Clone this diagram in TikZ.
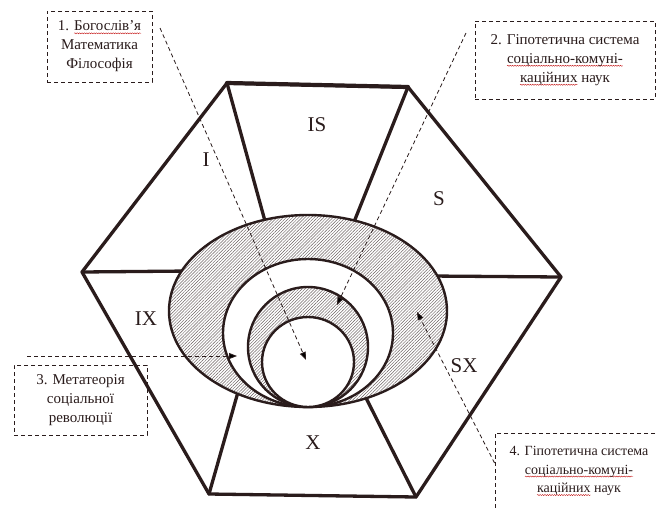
\documentclass[tikz,border=0pt]{standalone}
\usepackage{fontspec}
\setmainfont{Liberation Serif}
\usetikzlibrary{arrows.meta,patterns.meta,decorations.pathmorphing}
\definecolor{ink}{HTML}{2A1C1C}
\newlength\rwlen
\newcommand\rwave[1]{\settowidth\rwlen{#1}\rlap{\tikz[overlay,baseline=0pt]\draw[solid,draw=red!75!black,line width=0.35pt,decorate,decoration={snake,amplitude=0.55pt,segment length=2.4pt}] (0pt,-2.4pt) -- (\rwlen,-2.4pt);}#1}
\begin{document}
\begin{tikzpicture}[x=1pt,y=-1pt,
  hexline/.style={draw=ink,line width=3.3pt,line cap=round,line join=round},
  ring/.style={draw=ink,line width=2.4pt},
  hatch/.style={preaction={fill=white},pattern={Lines[angle=45,distance=2.2pt,line width=0.45pt]},pattern color=ink!70},
  blank/.style={fill=white},
  note/.style={draw=ink,dash pattern=on 4pt off 3pt,line width=0.85pt,align=center,
    font=\fontsize{15}{19}\selectfont,text=ink,inner sep=0pt},
  pointer/.style={draw=ink,line width=0.8pt,dash pattern=on 4pt off 3pt,
    -{Triangle[length=8pt,width=6pt]}},
  zone/.style={font=\fontsize{21}{21}\selectfont,text=ink}
]
\useasboundingbox (0,0) rectangle (656,507);
\clip (0,0) rectangle (656,507);
\fill[white] (0,0) rectangle (656,507);

% hexagon vertices
\coordinate (TL) at (227,83);
\coordinate (TR) at (408,87);
\coordinate (R) at (561,277);
\coordinate (BR) at (416,497);
\coordinate (BL) at (209,494);
\coordinate (L) at (82,272);

% spokes (ends hidden under the outer ellipse)
\draw[hexline] (TL) -- (268,232);
\draw[hexline] (TR) -- (350,232);
\draw[hexline] (L) -- (190,271);
\draw[hexline] (R) -- (430,276);
\draw[hexline] (BL) -- (240,385);
\draw[hexline] (BR) -- (362,390);

% hexagon outline
\draw[hexline] (TL) -- (TR) -- (R) -- (BR) -- (BL) -- (L) -- cycle;
\draw[draw=ink,line width=4.2pt,line cap=round] (TL) -- (TR);

% nested ellipses, all touching at the bottom
\draw[ring,hatch] (308,311) ellipse [x radius=139, y radius=96];
\draw[ring,blank] (308,333) ellipse [x radius=85, y radius=74];
\draw[ring,hatch] (308,347) ellipse [x radius=60, y radius=60];
\draw[ring,blank] (308,362) ellipse [x radius=46, y radius=45];

% zone labels
\node[zone] (lI) at (206,160) {I};
\node[zone] (lIS) at (317,125) {IS};
\node[zone] (lS) at (439,199) {S};
\node[zone] (lIX) at (146,319) {IX};
\node[zone] (lSX) at (464,366) {SX};
\node[zone] (lX) at (313,443) {X};

% note boxes
\node[note,minimum width=105pt,minimum height=71pt] (b1) at (99.5,46.5)
  {1. \rwave{Богослів’я}\\Математика\\Філософія};
\node[note,minimum width=180pt,minimum height=78pt] (b2) at (565,60)
  {2. Гіпотетична система\\\rwave{соціально-комуні-}\\\rwave{каційних} наук};
\node[note,minimum width=133pt,minimum height=70pt] (b3) at (80.5,400)
  {3. Метатеорія\\соціальної\\революції};
\node[note,font=\fontsize{14}{18.5}\selectfont,minimum width=168pt,minimum height=76pt] (b4) at (579,471)
  {4. Гіпотетична система\\\rwave{соціально-комуні-}\\\rwave{каційних} наук};

% pointer ends
\coordinate (p1s) at (160,28);
\coordinate (p1e) at (306,360);
\coordinate (p2s) at (466,33);
\coordinate (p2e) at (337,305);
\coordinate (p3s) at (27,356);
\coordinate (p3e) at (237,356);
\coordinate (p4s) at (b4.west |- 0,463);
\coordinate (p4e) at (417,312);

\draw[pointer] (p1s) -- (p1e);
\draw[pointer] (p2s) -- (p2e);
\draw[pointer] (p3s) -- (p3e);
\draw[pointer] (p4s) -- (p4e);
\end{tikzpicture}
\end{document}
